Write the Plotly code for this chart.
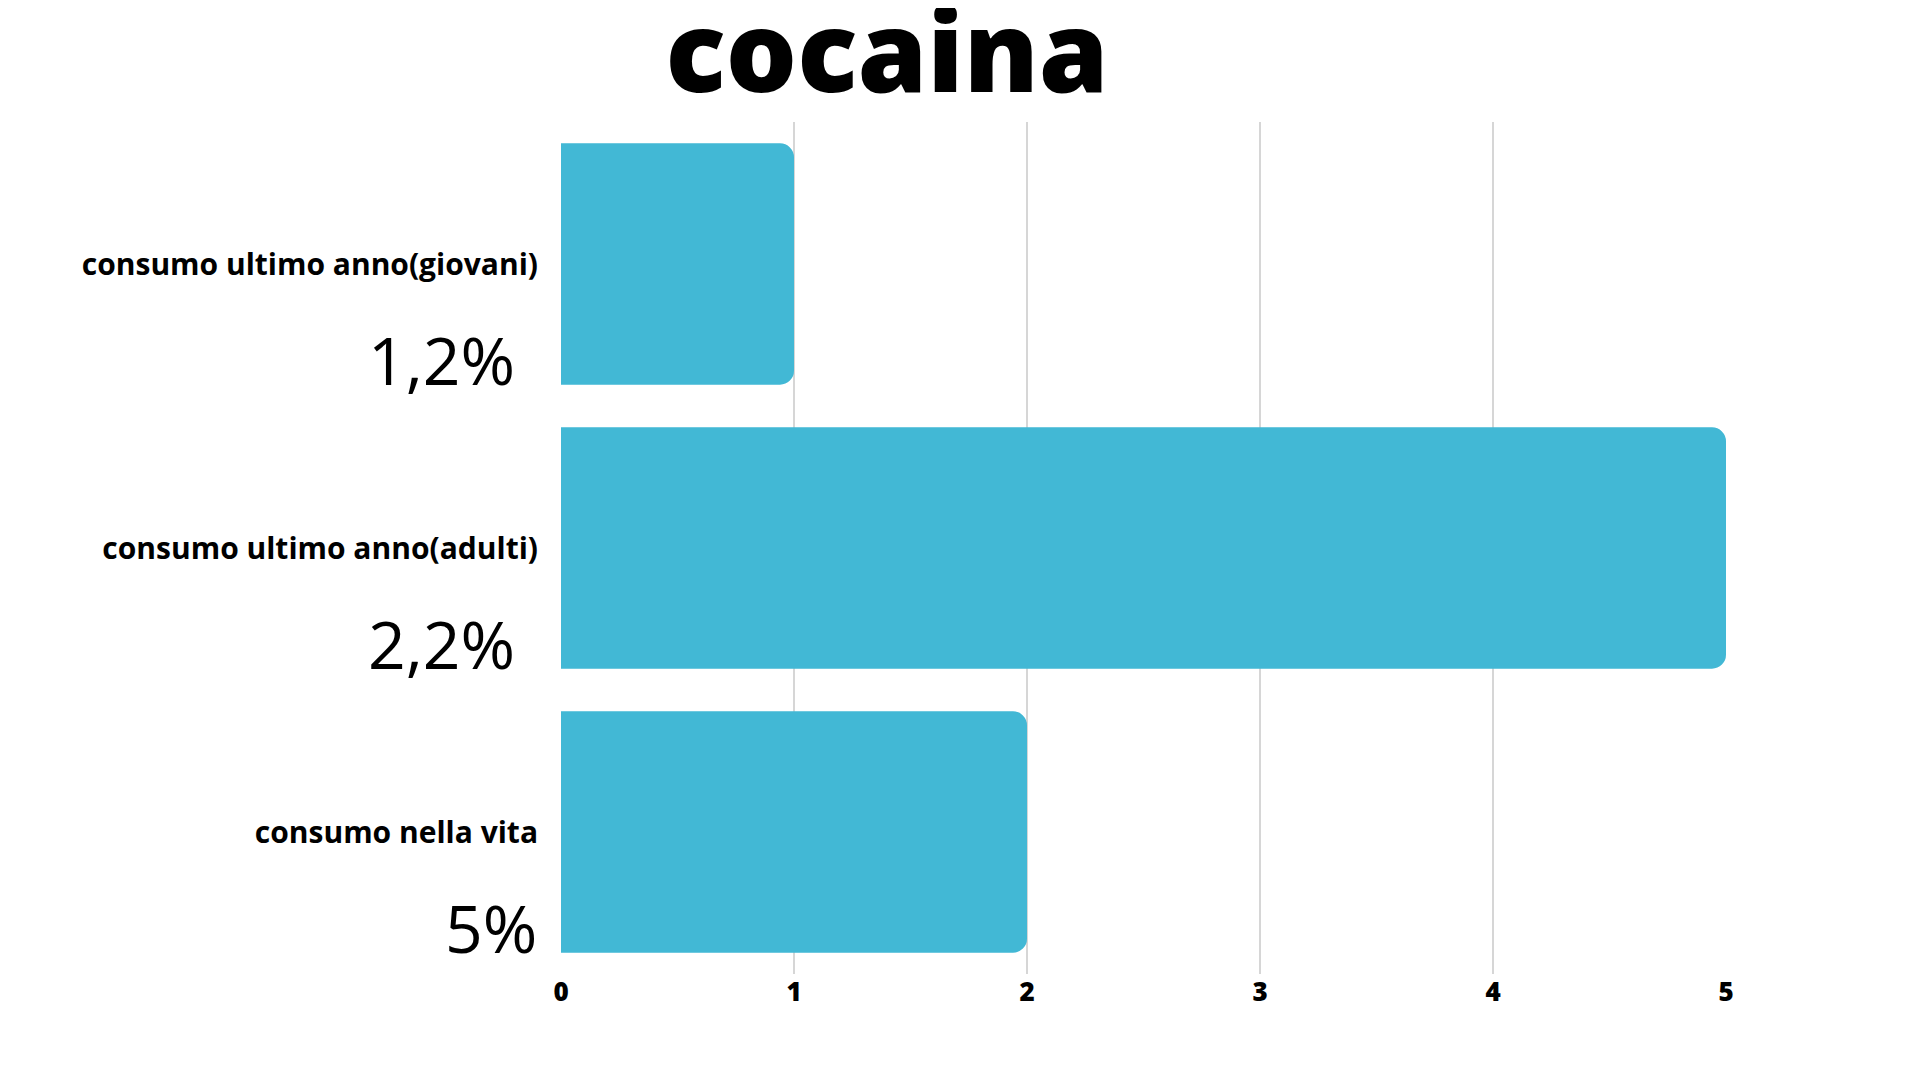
import plotly.graph_objects as go

categories = ["consumo ultimo anno(giovani)", "consumo ultimo anno(adulti)", "consumo nella vita"]
values = [1, 5, 2]
pct_labels = ["1,2%", "2,2%", "5%"]
pct_right = [509, 509, 531]

fig = go.Figure(go.Bar(y=categories, x=values, orientation="h",
                       marker=dict(color="#42B8D5", line=dict(width=0)),
                       hoverinfo="skip"))
fig.update_layout(
    width=1919, height=1080, paper_bgcolor="white", plot_bgcolor="white",
    margin=dict(l=553, r=201, t=114, b=114), bargap=0.15, barcornerradius=14,
    showlegend=False,
    title=dict(text="cocaina", x=879/1919, xanchor="center", y=0.995, yanchor="top",
               font=dict(family="Open Sans", size=112, color="black", weight=800)),
    xaxis=dict(range=[0, 5.0], dtick=1, showgrid=True, gridcolor="#d6d6d6", gridwidth=1.5,
               zeroline=False, showline=False, ticks="",
               tickfont=dict(family="Open Sans", size=26, color="black", weight=800)),
    yaxis=dict(autorange="reversed", showgrid=False, ticks="", ticklabelstandoff=22,
               tickfont=dict(family="Open Sans", size=30, color="black", weight=700)),
)
for i, (t, r) in enumerate(zip(pct_labels, pct_right)):
    fig.add_annotation(text=t, x=r, xref="paper", y=i, yref="y", showarrow=False,
                       xanchor="right", yshift=-95,
                       font=dict(family="Open Sans", size=66, color="black"))
# convert pixel x to paper coordinates for annotations
for a in fig.layout.annotations:
    a.x = (a.x - 553) / (1919 - 553 - 201)
fig.write_html("out.html")
